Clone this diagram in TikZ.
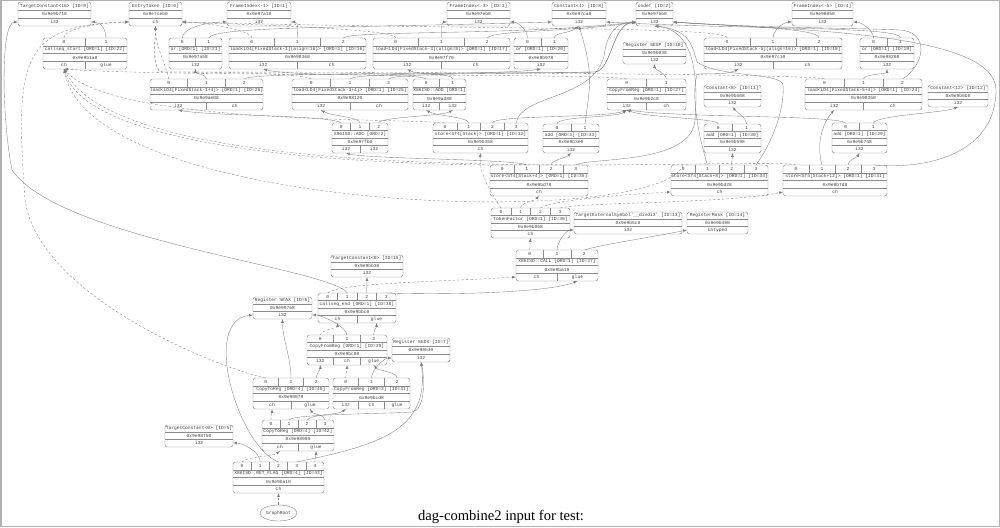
\documentclass[tikz,border=0pt]{standalone}
\usepackage{fontspec}
\setmainfont{Liberation Serif}
\setmonofont{Liberation Mono}
\usetikzlibrary{arrows,shapes.geometric}

\newcommand{\dagfont}{\ttfamily\fontsize{4.6}{5}\selectfont}

% operation record: name, x1, y1, x2, y2, number of operands, title, address, result types
\newcommand{\dagop}[9]{%
  \pgfmathsetmacro\dagw{#4-#2}%
  \pgfmathsetmacro\dagh{(#5-#3)/4}%
  \draw[dagbox] (#2,#3) rectangle (#4,#5);
  \foreach \rr in {1,2,3} \draw[dagrule] (#2,{#3+\rr*\dagh}) -- (#4,{#3+\rr*\dagh});
  \pgfmathsetmacro\dagcw{\dagw/#6}%
  \pgfmathtruncatemacro\daglast{#6-1}%
  \foreach \kk in {0,...,\daglast} {
    \node[dagtext] (#1-pi\kk) at ({#2+(\kk+0.5)*\dagcw},{#3+0.5*\dagh}) {\kk};
    \coordinate (#1-i\kk) at ({#2+(\kk+0.5)*\dagcw},#3);
  }
  \foreach \kk in {1,...,\daglast}
    \draw[dagrule] ({#2+\kk*\dagcw},#3) -- ({#2+\kk*\dagcw},{#3+\dagh});
  \node[dagtext] (#1) at ({(#2+#4)/2},{#3+1.5*\dagh}) {#7};
  \node[dagtext] (#1-adr) at ({(#2+#4)/2},{#3+2.5*\dagh}) {#8};
  \gdef\dagn{0}%
  \foreach \rt in {#9} {\pgfmathtruncatemacro\dagm{\dagn+1}\global\let\dagn\dagm}%
  \pgfmathsetmacro\dagrw{\dagw/\dagn}%
  \foreach \rt [count=\kk from 0] in {#9} {
    \node[dagtext] (#1-po\kk) at ({#2+(\kk+0.5)*\dagrw},{#3+3.5*\dagh}) {\rt};
    \coordinate (#1-o\kk) at ({#2+(\kk+0.5)*\dagrw},#5);
    \ifnum\kk>0 \draw[dagrule] ({#2+\kk*\dagrw},{#3+3*\dagh}) -- ({#2+\kk*\dagrw},#5);\fi
  }
  \coordinate (#1-ol) at (#2,{#5-4});
  \coordinate (#1-or) at (#4,{#5-4});
}

% leaf record: name, x1, y1, x2, y2, title, address, type
\newcommand{\dagleaf}[8]{%
  \pgfmathsetmacro\dagh{(#5-#3)/3}%
  \draw[dagbox] (#2,#3) rectangle (#4,#5);
  \draw[dagrule] (#2,{#3+\dagh}) -- (#4,{#3+\dagh}) (#2,{#3+2*\dagh}) -- (#4,{#3+2*\dagh});
  \node[dagtext] (#1) at ({(#2+#4)/2},{#3+0.5*\dagh}) {#6};
  \node[dagtext] (#1-adr) at ({(#2+#4)/2},{#3+1.5*\dagh}) {#7};
  \node[dagtext] (#1-ty) at ({(#2+#4)/2},{#3+2.5*\dagh}) {#8};
  \coordinate (#1-o0) at ({(#2+#4)/2},#5);
  \coordinate (#1-l) at (#2,{#5-4});
  \coordinate (#1-r) at (#4,{#5-4});
}

\begin{document}
\begin{tikzpicture}[x=1pt,y=-1pt,
  dagbox/.style={draw=black!50,line width=0.4pt,rounded corners=2.5pt},
  dagrule/.style={draw=black!45,line width=0.35pt},
  dagtext/.style={font=\dagfont,text=black!75,inner sep=0pt},
  dat/.style={draw=black!50,line width=0.35pt,-latex},
  chn/.style={dat,dash pattern=on 2.5pt off 2pt},
  glu/.style={dat}]
\useasboundingbox (0,0) rectangle (1000,527);
\draw[black!30,line width=1.5pt] (0.75,0.75) rectangle (999.25,526.25);

% leaves
\dagleaf{TC16}{18}{2}{91}{26}{TargetConstant<16> [ID=9]}{0x9e9b718}{i32}
\dagleaf{ET}{129}{2}{182}{26}{EntryToken [ID=0]}{0x9e7ceb0}{ch}
\dagleaf{FI1}{227}{2}{291}{26}{FrameIndex<-1> [ID=1]}{0x9e97a10}{i32}
\dagleaf{FI3}{447}{2}{510}{26}{FrameIndex<-3> [ID=3]}{0x9e97eb0}{i32}
\dagleaf{C4}{552}{2}{606}{26}{Constant<4> [ID=8]}{0x9e97ca8}{i32}
\dagleaf{UD}{636}{2}{673}{26}{undef [ID=2]}{0x9e97bb0}{i32}
\dagleaf{FI5}{792}{2}{853}{26}{FrameIndex<-5> [ID=4]}{0x9e98050}{i32}
\dagleaf{ESP}{623}{42}{686}{64}{Register \%ESP [ID=10]}{0x9e9b038}{i32}
\dagleaf{C8}{704}{85}{761}{107}{Constant<8> [ID=11]}{0x9e9b508}{i32}
\dagleaf{C12}{928}{85}{988}{107}{Constant<12> [ID=12]}{0x9e9b6b8}{i32}
\dagleaf{TES}{574}{212}{682}{234}{TargetExternalSymbol'\_\_divdi3' [ID=13]}{0x9e9b5c8}{i32}
\dagleaf{RM}{687}{212}{748}{234}{RegisterMask [ID=14]}{0x9e9b490}{Untyped}
\dagleaf{TC0a}{331}{255}{403}{277}{TargetConstant<0> [ID=15]}{0x9e9bb30}{i32}
\dagleaf{EAX}{253}{297}{312}{319}{Register \%EAX [ID=6]}{0x9e997e8}{i32}
\dagleaf{EDX}{392}{338}{450}{362}{Register \%EDX [ID=7]}{0x9e98530}{i32}
\dagleaf{TC0b}{165}{425}{233}{447}{TargetConstant<0> [ID=5]}{0x9e98750}{i32}

% operations
\dagop{CS}{43}{38}{127}{69}{2}{callseq\_start [ORD=1] [ID=22]}{0x9e9b1a8}{ch,glue}
\dagop{OR21}{169}{38}{222}{69}{2}{or [ORD=1] [ID=21]}{0x9e97a58}{i32}
\dagop{LD1}{229}{38}{366}{69}{3}{load<LD4[FixedStack-1](align=16)> [ORD=1] [ID=16]}{0x9e98360}{i32,ch}
\dagop{LD3}{373}{38}{510}{69}{3}{load<LD4[FixedStack-3](align=8)> [ORD=1] [ID=17]}{0x9e97f70}{i32,ch}
\dagop{OR20}{514}{38}{568}{69}{2}{or [ORD=1] [ID=20]}{0x9e9b978}{i32}
\dagop{LD5}{704}{38}{842}{69}{3}{load<LD4[FixedStack-5](align=16)> [ORD=1] [ID=18]}{0x9e97c10}{i32,ch}
\dagop{OR19}{860}{38}{914}{69}{2}{or [ORD=1] [ID=19]}{0x9e98208}{i32}
\dagop{LD1P}{150}{79}{263}{110}{3}{load<LD4[FixedStack-1+4]> [ORD=1] [ID=26]}{0x9e9ae08}{i32,ch}
\dagop{LD3P}{292}{79}{408}{110}{3}{load<LD4[FixedStack-3+4]> [ORD=1] [ID=25]}{0x9e98120}{i32,ch}
\dagop{ADD}{413}{79}{466}{110}{2}{X86ISD::ADD [ORD=1]}{0x9e9ad88}{i32,i32}
\dagop{CFR27}{607}{79}{686}{110}{2}{CopyFromReg [ORD=1] [ID=27]}{0x9e9b2c8}{i32,ch}
\dagop{LD5P}{805}{79}{922}{110}{3}{load<LD4[FixedStack-5+4]> [ORD=1] [ID=24]}{0x9e98350}{i32,ch}
\dagop{ADC}{332}{123}{388}{153}{3}{X86ISD::ADC [ORD=2]}{0x9e97fb0}{i32,i32}
\dagop{ST}{433}{123}{528}{153}{4}{store<ST4[Stack]> [ORD=1] [ID=32]}{0x9e9b358}{ch}
\dagop{ADDA}{543}{124}{599}{153}{2}{add [ORD=1] [ID=33]}{0x9e9b3e0}{i32}
\dagop{ADDB}{704}{124}{761}{153}{2}{add [ORD=1] [ID=30]}{0x9e9b598}{i32}
\dagop{ADDC}{832}{123}{887}{153}{2}{add [ORD=1] [ID=29]}{0x9e9b748}{i32}
\dagop{ST4}{490}{165}{588}{196}{4}{store<ST4[Stack+4]> [ORD=1] [ID=35]}{0x9e9bd78}{ch}
\dagop{ST8}{671}{165}{768}{196}{4}{store<ST4[Stack+8]> [ORD=1] [ID=34]}{0x9e9bd28}{ch}
\dagop{ST12}{783}{165}{887}{196}{4}{store<ST4[Stack+12]> [ORD=1] [ID=31]}{0x9e9b7d8}{ch}
\dagop{TF}{491}{208}{570}{238}{4}{TokenFactor [ORD=1] [ID=36]}{0x9e9b068}{ch}
\dagop{CALL}{516}{250}{598}{281}{3}{X86ISD::CALL [ORD=1] [ID=37]}{0x9e9ba18}{ch,glue}
\dagop{CSE}{318}{293}{396}{323}{4}{callseq\_end [ORD=1] [ID=38]}{0x9e9bbc0}{ch,glue}
\dagop{CFR39}{307}{335}{387}{365}{3}{CopyFromReg [ORD=1] [ID=39]}{0x9e9bc80}{i32,ch,glue}
\dagop{CTR40}{253}{378}{329}{409}{3}{CopyToReg [ORD=4] [ID=40]}{0x9e98078}{ch,glue}
\dagop{CFR41}{333}{378}{410}{409}{3}{CopyFromReg [ORD=3] [ID=41]}{0x9e9bcd8}{i32,ch,glue}
\dagop{CTR42}{262}{420}{334}{451}{4}{CopyToReg [ORD=4] [ID=42]}{0x9e98980}{ch,glue}
\dagop{RET}{233}{462}{324}{493}{5}{X86ISD::RET\_FLAG [ORD=4] [ID=43]}{0x9e9ba10}{ch}

\node[ellipse,draw=black!50,line width=0.4pt,minimum width=37pt,minimum height=16pt,
  inner sep=0pt,font=\dagfont,text=black!75] (GR) at (278.5,513) {GraphRoot};
\node[font=\fontsize{14.6}{16}\selectfont,anchor=base,inner sep=0pt] (title) at (501,520.5)
  {dag-combine2 input for test:};

% operands of the loads and the ors
\draw[chn] (CS-i0) .. controls +(0,-10) and +(-25,0) .. (ET-l);
\draw[dat] (CS-i1) .. controls +(0,-8) and +(10,0) .. (TC16-r);
\draw[dat] (OR21-i0) .. controls +(0,-10) and +(-20,0) .. (FI1-l);
\draw[dat] (OR21-i1) .. controls +(5,-12) and +(-200,6) .. (C4-l);
\draw[chn] (LD1-i0) .. controls +(0,-8) and +(20,0) .. (ET-r);
\draw[dat] (LD1-i1) .. controls +(0,-8) and +(8,0) .. (FI1-r);
\draw[dat] (LD1-i2) .. controls +(10,-8) and +(-120,14) .. (UD-l);
\draw[chn] (LD3-i0) .. controls +(0,-10) and +(40,2) .. (ET-r);
\draw[dat] (LD3-i1) .. controls +(0,-8) and +(-6,0) .. (FI3-l);
\draw[dat] (LD3-i2) .. controls +(5,-8) and +(-60,10) .. (UD-l);
\draw[dat] (OR20-i0) .. controls +(0,-8) and +(8,0) .. (FI3-r);
\draw[dat] (OR20-i1) .. controls +(0,-6) and +(-10,8) .. (C4-o0);
\draw[chn] (LD5-i0) .. controls +(0,-12) and +(300,8) .. (ET-r);
\draw[dat] (LD5-i1) .. controls +(0,-8) and +(-8,0) .. (FI5-l);
\draw[dat] (LD5-i2) .. controls +(0,-10) and +(60,4) .. (UD-r);
\draw[dat] (OR19-i0) .. controls +(0,-8) and +(8,0) .. (FI5-r);
\draw[dat] (OR19-i1) .. controls +(0,-12) and +(150,8) .. (C4-r);

\draw[chn] (LD1P-i0) .. controls +(-5,-20) and +(0,20) .. (ET-o0);
\draw[dat] (LD1P-i1) .. controls +(0,-5) and +(0,5) .. (OR21-o0);
\draw[dat] (LD1P-i2) .. controls +(6,-7) and (450,74) .. (595,72) .. controls (612,70) and (612,24) .. (UD-l);
\draw[chn] (LD3P-i0) .. controls +(-10,-6) and (220,72) .. (162,72) .. controls (152,70) and (155,45) .. (ET-o0);
\draw[dat] (LD3P-i1) .. controls +(5,-7) and +(-40,6) .. (OR20-o0);
\draw[dat] (LD3P-i2) .. controls +(5,-6) and (500,74) .. (595,72) .. controls (612,70) and (612,24) .. (UD-l);
\draw[dat] (ADD-i0) .. controls +(-5,-6) and +(30,8) .. (LD1-o0);
\draw[dat] (ADD-i1) .. controls +(0,-6) and +(10,6) .. (LD3-o0);
\draw[chn] (CFR27-i0) .. controls +(-20,-6) and +(100,8) .. (CS-o0);
\draw[dat] (CFR27-i1) .. controls +(0,-6) and +(0,6) .. (ESP-o0);
\draw[chn] (LD5P-i0) .. controls +(-15,-6) and (300,72) .. (162,72) .. controls (152,70) and (155,45) .. (ET-o0);
\draw[dat] (LD5P-i1) .. controls +(0,-5) and +(0,5) .. (OR19-o0);
\draw[dat] (LD5P-i2) .. controls (925,65) and (930,32) .. (900,30) .. controls (860,28) and (760,28) .. (UD-r);

% adds, adc and the first store
\draw[dat] (ADC-i0) .. controls +(-10,-8) and +(30,6) .. (LD1P-o0);
\draw[dat] (ADC-i1) .. controls +(0,-6) and +(10,6) .. (LD3P-o0);
\draw[dat] (ADC-i2) .. controls +(0,-6) and +(-10,6) .. (ADD-o1);
\draw[chn] (ST-i0) .. controls +(-40,-5) and +(50,56) .. (CS-o0);
\draw[dat] (ST-i1) .. controls +(0,-6) and +(10,6) .. (ADD-o0);
\draw[dat] (ST-i2) .. controls +(0,-8) and +(-20,8) .. (CFR27-o0);
\draw[dat] (ST-i3) .. controls +(5,-30) and (600,100) .. (605,50) .. controls (608,35) and (615,22) .. (UD-l);
\draw[dat] (ADDA-i0) .. controls +(0,-8) and +(-10,8) .. (CFR27-o0);
\draw[dat] (ADDA-i1) .. controls +(5,-40) and +(15,50) .. (C4-o0);
\draw[dat] (ADDB-i0) .. controls +(0,-6) and +(20,8) .. (CFR27-o0);
\draw[dat] (ADDB-i1) .. controls +(0,-6) and +(5,6) .. (C8-o0);
\draw[dat] (ADDC-i0) .. controls +(-10,-8) and +(60,8) .. (CFR27-o0);
\draw[dat] (ADDC-i1) .. controls +(5,-8) and +(-15,6) .. (C12-o0);

% the other stores
\draw[chn] (ST4-i0) .. controls +(-32,0) and +(27,96) .. (CS-o0);
\draw[dat] (ST4-i1) .. controls +(-10,-6) and +(20,6) .. (ADC-o0);
\draw[dat] (ST4-i2) .. controls +(0,-5) and +(-5,5) .. (ADDA-o0);
\draw[dat] (ST4-i3) .. controls +(15,-8) and (692,165) .. (695,120) .. controls (698,80) and (696,30) .. (UD-o0);
\draw[chn] (ST8-i0) .. controls +(-23,65) and +(27,146) .. (CS-o0);
\draw[dat] (ST8-i1) .. controls +(-12,-40) and (692,90) .. (697,75) .. controls (700,72) and (725,76) .. (LD5-o0);
\draw[dat] (ST8-i2) .. controls +(0,-5) and +(0,5) .. (ADDB-o0);
\draw[dat] (ST8-i3) .. controls +(15,-20) and (785,110) .. (783,85) .. controls (781,72) and (720,78) .. (697,62) .. controls (692,45) and (690,30) .. (UD-o0);
\draw[chn] (ST12-i0) .. controls +(-36,-10) and +(67,131) .. (CS-o0);
\draw[dat] (ST12-i1) .. controls +(-7,-25) and +(-9,10) .. (LD5P-o0);
\draw[dat] (ST12-i2) .. controls +(0,-5) and +(-3,5) .. (ADDC-o0);
\draw[dat] (ST12-i3) .. controls +(60,5) and (996,150) .. (996,90) .. controls (996,30) and (780,30) .. (UD-r);

% token factor and call
\draw[chn] (TF-i0) .. controls +(-6,-10) and +(-2,22) .. (ST-o0);
\draw[chn] (TF-i1) .. controls +(0,-5) and +(-5,5) .. (ST4-o0);
\draw[chn] (TF-i2) .. controls +(10,-8) and +(-40,2) .. (ST8-ol);
\draw[chn] (TF-i3) .. controls +(20,-6) and +(-60,12) .. (ST12-ol);
\draw[chn] (CALL-i0) -- (TF-o0);
\draw[dat] (CALL-i1) .. controls +(0,-8) and +(-8,0) .. (TES-l);
\draw[dat] (CALL-i2) .. controls +(15,-5) and +(-40,8) .. (RM-l);

\draw[chn] (CSE-i0) .. controls +(10,-10) and +(-80,5) .. (CALL-ol);
\draw[dat] (CSE-i1) .. controls +(-17,-25) and (60,240) .. (12,170) .. controls (2,120) and (0,22) .. (TC16-l);
\draw[dat] (CSE-i2) -- (TC0a-o0);
\draw[glu] (CSE-i3) .. controls +(60,2) and +(-30,12) .. (CALL-o1);

% results and return
\draw[chn] (CFR39-i0) .. controls +(0,-5) and +(0,5) .. (CSE-o0);
\draw[dat] (CFR39-i1) .. controls +(0,-8) and +(10,0) .. (EAX-r);
\draw[glu] (CFR39-i2) .. controls +(0,-5) and +(0,5) .. (CSE-o1);

\draw[chn] (CTR40-i0) .. controls +(-40,-8) and (40,300) .. (25,200) .. controls (15,60) and (20,25) .. (ET-l);
\draw[dat] (CTR40-i1) .. controls +(0,-20) and +(0,20) .. (EAX-o0);
\draw[dat] (CTR40-i2) .. controls +(0,-5) and +(0,5) .. (CFR39-o0);
\draw[chn] (CFR41-i0) .. controls +(0,-5) and +(0,5) .. (CFR39-o1);
\draw[dat] (CFR41-i1) .. controls +(0,-8) and +(-8,0) .. (EDX-l);
\draw[glu] (CFR41-i2) .. controls +(0,-6) and +(5,6) .. (CFR39-o2);

\draw[chn] (CTR42-i0) .. controls +(0,-5) and +(0,5) .. (CTR40-o0);
\draw[dat] (CTR42-i1) .. controls +(3,-6) and (380,414) .. (412,412) .. controls (425,410) and (425,380) .. (EDX-o0);
\draw[dat] (CTR42-i2) .. controls +(5,-6) and +(-8,6) .. (CFR41-o0);
\draw[glu] (CTR42-i3) .. controls +(0,-5) and +(3,5) .. (CTR40-o1);

\draw[chn] (RET-i0) .. controls +(5,-6) and +(-8,6) .. (CTR42-o0);
\draw[dat] (RET-i1) .. controls +(0,-10) and +(10,0) .. (TC0b-r);
\draw[dat] (RET-i2) .. controls +(-40,-15) and +(-53,5) .. (EAX-l);
\draw[dat] (RET-i3) .. controls +(83,-17) and +(9,68) .. (EDX-o0);
\draw[glu] (RET-i4) .. controls +(0,-5) and +(0,5) .. (CTR42-o1);
\draw[chn] (GR) -- (RET-o0);
\end{tikzpicture}
\end{document}
